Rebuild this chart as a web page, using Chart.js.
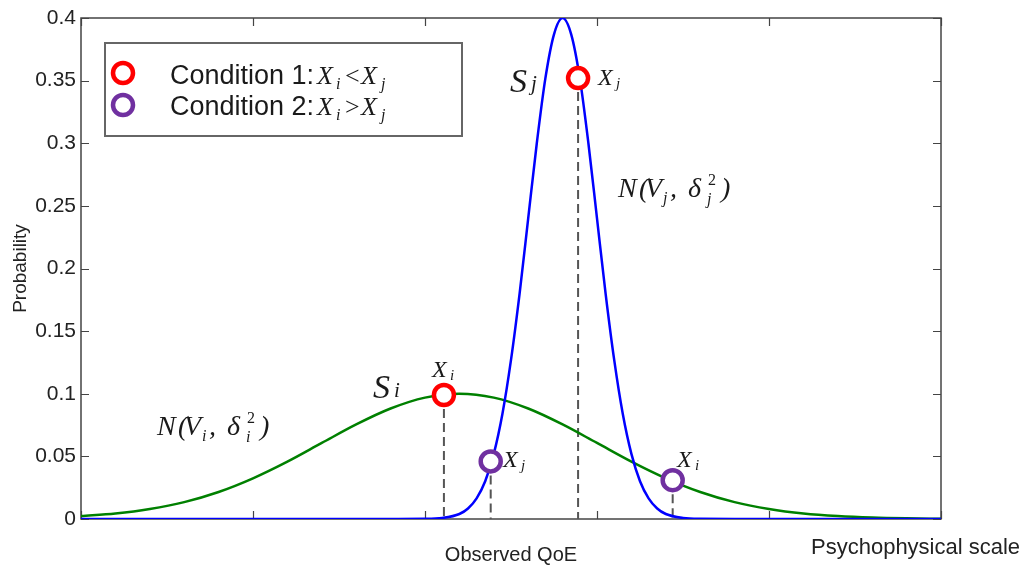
<!DOCTYPE html>
<html lang="en">
<head>
<meta charset="UTF-8">
<title>Observed QoE</title>
<script src="https://cdn.jsdelivr.net/npm/chart.js"></script>
<style>
  html, body { margin: 0; padding: 0; background: #fff; }
  #wrap { width: 1021px; height: 565px; }
</style>
</head>
<body>
<div id="wrap"><canvas id="qoeChart" width="1021" height="565"></canvas></div>
<script>
// values, x in scale units (5 units between ticks)
const xTicks = [0, 5, 10, 15, 20, 25];
const yTicks = [0, 0.05, 0.1, 0.15, 0.2, 0.25, 0.3, 0.35, 0.4];
const yTickLabels = ['0', '0.05', '0.1', '0.15', '0.2', '0.25', '0.3', '0.35', '0.4'];

// S_i, wide curve
const greenX = [0, 1, 2, 3, 4, 5, 6, 7, 8, 9, 10, 11, 12, 13, 14, 15, 16, 17, 18, 19, 20, 21, 22, 23, 24, 25];
const greenY = [0.0023, 0.0044, 0.008, 0.0135, 0.0216, 0.0325, 0.0458, 0.0607, 0.0755, 0.0882, 0.0969, 0.1,
  0.0969, 0.0882, 0.0755, 0.0607, 0.0458, 0.0325, 0.0216, 0.0135, 0.008, 0.0044, 0.0023, 0.0011, 0.0005, 0.0002];

// S_j, narrow curve
const blueX = [0, 9, 10, 10.5, 11, 11.25, 11.5, 11.75, 12, 12.25, 12.5, 12.75, 13, 13.25, 13.5, 13.75, 14,
  14.25, 14.5, 14.75, 15, 15.25, 15.5, 15.75, 16, 16.25, 16.5, 16.75, 17, 17.5, 18, 19, 25];
const blueY = [0, 0, 0.0001, 0.0008, 0.004, 0.0084, 0.0165, 0.0302, 0.052, 0.0838, 0.127, 0.18, 0.24, 0.3, 0.352, 0.387, 0.4,
  0.387, 0.352, 0.3, 0.24, 0.18, 0.127, 0.0838, 0.052, 0.0302, 0.0165, 0.0084, 0.004, 0.0008, 0.0001, 0, 0];

// observed points
const cond1X = [10.55, 14.45];
const cond1Y = [0.099, 0.352];
const cond2X = [11.91, 17.2];
const cond2Y = [0.046, 0.031];

const SANS = '"Liberation Sans", Arial, sans-serif';
const SERIF = '"Liberation Serif", "Times New Roman", serif';
const RED = '#ff0000';
const PURPLE = '#7030a0';

const it = size => 'italic ' + size + 'px ' + SERIF;
const rm = size => size + 'px ' + SERIF;

function toPoints(xs, ys) {
    return xs.map((x, i) => ({ x: x, y: ys[i] }));
}

// draw a run of text pieces, each placed at an offset from (x0, y0)
function drawMath(ctx, x0, y0, parts) {
    parts.forEach(p => {
        ctx.font = p.f;
        ctx.fillText(p.t, x0 + p.dx, y0 + (p.dy || 0));
    });
}

function normalLabel(sub) {
    return [
        { t: 'N', dx: 0, f: it(28) },
        { t: '(', dx: 21, f: it(28) },
        { t: 'V', dx: 27, f: it(28) },
        { t: sub, dx: 45, dy: 6, f: it(16) },
        { t: ',', dx: 52, f: it(28) },
        { t: 'δ', dx: 70, f: it(28) },
        { t: '2', dx: 90, dy: -12, f: rm(16) },
        { t: sub, dx: 89, dy: 7, f: it(16) },
        { t: ')', dx: 103, f: it(28) }
    ];
}

function xLabel(sub) {
    return [
        { t: 'X', dx: 0, f: it(24) },
        { t: sub, dx: 18, dy: 3, f: it(15) }
    ];
}

function condLabel(n, op) {
    return [
        { t: 'Condition ' + n + ':', dx: 0, f: '27px ' + SANS },
        { t: 'X', dx: 147, f: it(26) },
        { t: 'i', dx: 166, dy: 5, f: it(16) },
        { t: op, dx: 175, f: rm(26) },
        { t: 'X', dx: 191, f: it(26) },
        { t: 'j', dx: 211, dy: 5, f: it(16) }
    ];
}

function ring(ctx, x, y, color) {
    ctx.beginPath();
    ctx.arc(x, y, 10, 0, Math.PI * 2);
    ctx.fillStyle = '#fff';
    ctx.fill();
    ctx.lineWidth = 4.5;
    ctx.strokeStyle = color;
    ctx.stroke();
}

const frame = {
    id: 'frame',
    beforeDatasetsDraw(chart) {
        const { ctx, chartArea: a, scales: { x, y } } = chart;
        ctx.save();
        ctx.strokeStyle = '#444';
        ctx.lineWidth = 1.5;
        ctx.strokeRect(a.left, a.top, a.right - a.left, a.bottom - a.top);
        // inward tick marks on all four sides
        ctx.lineWidth = 1.2;
        ctx.beginPath();
        xTicks.forEach(v => {
            const px = Math.round(x.getPixelForValue(v)) + 0.5;
            ctx.moveTo(px, a.bottom); ctx.lineTo(px, a.bottom - 8);
            ctx.moveTo(px, a.top); ctx.lineTo(px, a.top + 8);
        });
        yTicks.forEach(v => {
            const py = Math.round(y.getPixelForValue(v)) + 0.5;
            ctx.moveTo(a.left, py); ctx.lineTo(a.left + 8, py);
            ctx.moveTo(a.right, py); ctx.lineTo(a.right - 8, py);
        });
        ctx.stroke();
        ctx.restore();
    },
    afterDatasetsDraw(chart) {
        const ctx = chart.ctx;
        ctx.save();
        // legend box
        ctx.fillStyle = '#fff';
        ctx.fillRect(105, 43, 357, 93);
        ctx.strokeStyle = '#666';
        ctx.lineWidth = 2;
        ctx.strokeRect(105, 43, 357, 93);
        ring(ctx, 123, 73, RED);
        ring(ctx, 123, 105, PURPLE);

        ctx.fillStyle = '#1a1a1a';
        ctx.textBaseline = 'alphabetic';
        ctx.textAlign = 'left';
        drawMath(ctx, 170, 84, condLabel(1, '<'));
        drawMath(ctx, 170, 115, condLabel(2, '>'));

        // curve names
        drawMath(ctx, 510, 92, [{ t: 'S', dx: 0, f: it(34) }, { t: 'j', dx: 21, dy: -2, f: it(21) }]);
        drawMath(ctx, 373, 398, [{ t: 'S', dx: 0, f: it(34) }, { t: 'i', dx: 21, dy: -1, f: it(21) }]);
        drawMath(ctx, 618, 197, normalLabel('j'));
        drawMath(ctx, 157, 435, normalLabel('i'));

        // point names
        drawMath(ctx, 598, 85, xLabel('j'));
        drawMath(ctx, 432, 377, xLabel('i'));
        drawMath(ctx, 503, 467, xLabel('j'));
        drawMath(ctx, 677, 467, xLabel('i'));

        ctx.fillStyle = '#222';
        ctx.font = '22px ' + SANS;
        ctx.fillText('Psychophysical scale', 811, 554);
        ctx.restore();
    }
};

const dashes = cond1X.map((x, i) => [x, cond1Y[i]])
    .concat(cond2X.map((x, i) => [x, cond2Y[i]]))
    .map(p => ({
        data: [{ x: p[0], y: p[1] }, { x: p[0], y: 0 }],
        showLine: true,
        borderColor: '#555',
        borderWidth: 2,
        borderDash: [9, 5],
        pointRadius: 0
    }));

Chart.defaults.font.family = SANS;

new Chart(document.getElementById('qoeChart'), {
    type: 'scatter',
    data: {
        datasets: [
            {
                label: 'Condition 1',
                data: toPoints(cond1X, cond1Y),
                pointRadius: 10,
                pointHoverRadius: 10,
                pointBorderWidth: 4.5,
                pointBorderColor: RED,
                pointBackgroundColor: '#fff'
            },
            {
                label: 'Condition 2',
                data: toPoints(cond2X, cond2Y),
                pointRadius: 10,
                pointHoverRadius: 10,
                pointBorderWidth: 4.5,
                pointBorderColor: PURPLE,
                pointBackgroundColor: '#fff'
            },
            {
                label: 'S_j',
                data: toPoints(blueX, blueY),
                showLine: true,
                borderColor: '#0000ff',
                borderWidth: 2.5,
                pointRadius: 0,
                cubicInterpolationMode: 'monotone'
            },
            {
                label: 'S_i',
                data: toPoints(greenX, greenY),
                showLine: true,
                borderColor: '#008000',
                borderWidth: 2.5,
                pointRadius: 0,
                cubicInterpolationMode: 'monotone'
            }
        ].concat(dashes)
    },
    options: {
        responsive: false,
        animation: false,
        events: [],
        layout: { padding: { left: 0, right: 80, top: 18, bottom: 0 } },
        plugins: { legend: { display: false }, tooltip: { enabled: false } },
        scales: {
            x: {
                type: 'linear',
                min: 0,
                max: 25,
                afterBuildTicks: s => { s.ticks = xTicks.map(v => ({ value: v })); },
                afterFit: s => { s.height = 46; },
                ticks: { display: false },
                grid: { display: false, drawTicks: false },
                border: { display: false },
                title: {
                    display: true,
                    text: 'Observed QoE',
                    color: '#222',
                    font: { family: SANS, size: 20, lineHeight: 1 },
                    padding: 0
                }
            },
            y: {
                min: 0,
                max: 0.4,
                afterBuildTicks: s => { s.ticks = yTicks.map(v => ({ value: v })); },
                afterFit: s => { s.width = 81; },
                ticks: {
                    callback: (v, i) => yTickLabels[i],
                    color: '#222',
                    font: { family: SANS, size: 21 },
                    padding: 5
                },
                grid: { display: false, drawTicks: false },
                border: { display: false },
                title: {
                    display: true,
                    text: 'Probability',
                    color: '#222',
                    font: { family: SANS, size: 19, lineHeight: 1 },
                    padding: { top: 11, bottom: 0 }
                }
            }
        }
    },
    plugins: [frame]
});
</script>
</body>
</html>
